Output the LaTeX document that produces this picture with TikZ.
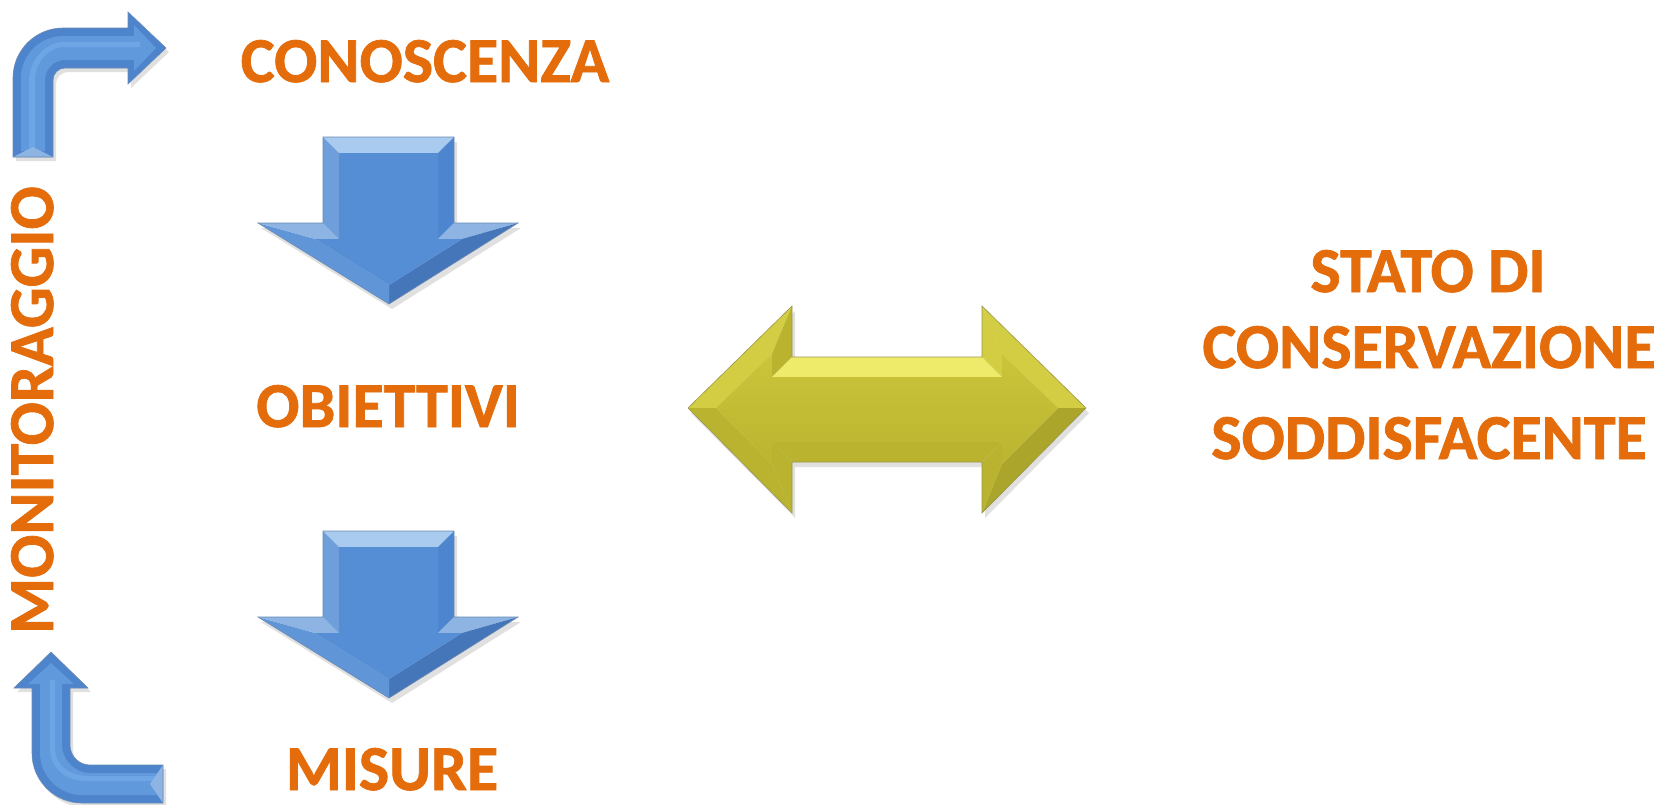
\documentclass[tikz,border=0pt]{standalone}
\usepackage{fontspec}
\setmainfont{Carlito}[BoldFeatures={FakeBold=1.2}]
\definecolor{orng}{HTML}{E46C0A}
\definecolor{bmain}{HTML}{558ED5}
\definecolor{blight}{HTML}{8DB4E2}
\definecolor{bpale}{HTML}{A9CBF0}
\definecolor{bdark}{HTML}{4676BA}
\definecolor{bmid}{HTML}{4D86CE}
\definecolor{bedge}{HTML}{6A8AB5}
\definecolor{bout}{HTML}{4E84CB}
\definecolor{bin}{HTML}{6199DD}
\definecolor{bhi}{HTML}{78AEEA}
\definecolor{ymain}{HTML}{C4BE32}
\definecolor{ylight}{HTML}{EEEA6A}
\definecolor{ypale}{HTML}{D3CD44}
\definecolor{ydark}{HTML}{ABA52C}
\definecolor{ymid}{HTML}{B9B330}
\definecolor{yedge}{HTML}{9A9648}
\tikzset{
  lbl/.style={text=orng, font=\bfseries\fontsize{64}{70}\selectfont, inner sep=0pt, anchor=base},
  shad/.style={fill=black, opacity=0.12},
  downarr/.pic={
    \begin{scope}[shift={(3,5)}]
      \fill[shad] (323,137) -- (454,137) -- (454,223) -- (518,223) -- (389,304) -- (258,223) -- (323,223) -- cycle;
    \end{scope}
    \fill[bpale] (323,137) -- (454,137) -- (438,153) -- (339,153) -- cycle;
    \fill[bmid] (454,137) -- (454,223) -- (438,239) -- (438,153) -- cycle;
    \fill[blight] (454,223) -- (518,223) -- (462,239) -- (438,239) -- cycle;
    \fill[bdark] (518,223) -- (389,304) -- (389,285) -- (462,239) -- cycle;
    \fill[bmain!80!blight] (389,304) -- (258,223) -- (315,239) -- (389,285) -- cycle;
    \fill[blight] (258,223) -- (323,223) -- (339,239) -- (315,239) -- cycle;
    \fill[bmain!55!blight] (323,223) -- (323,137) -- (339,153) -- (339,239) -- cycle;
    \fill[bmain] (339,153) -- (438,153) -- (438,239) -- (462,239) -- (389,285) -- (315,239) -- (339,239) -- cycle;
    \draw[bedge, line width=0.6pt, line join=miter] (323,137) -- (454,137) -- (454,223) -- (518,223) -- (389,304) -- (258,223) -- (323,223) -- cycle;
  }
}
\begin{document}
\begin{tikzpicture}[x=1pt, y=-1pt]
\useasboundingbox (0,0) rectangle (1659,804);
\fill[white] (0,0) rectangle (1659,804);

% top bent arrow
\begin{scope}[shift={(3,4)}]
\fill[shad] (13,157) -- (13,78) .. controls (13,50.4) and (35.4,28) .. (63,28) -- (128,28) -- (128,12) -- (166,48) -- (128,84) -- (128,68) -- (65,68) .. controls (58.4,68) and (53,73.4) .. (53,80) -- (53,157) -- cycle;
\end{scope}
\fill[bout] (13,157) -- (13,78) .. controls (13,50.4) and (35.4,28) .. (63,28) -- (128,28) -- (128,12) -- (166,48) -- (128,84) -- (128,68) -- (65,68) .. controls (58.4,68) and (53,73.4) .. (53,80) -- (53,157) -- cycle;
\fill[bin] (21,151) -- (21,78) .. controls (21,55) and (40,36) .. (63,36) -- (134,36) -- (134,25) -- (156,48) -- (134,71) -- (134,60) -- (65,60) .. controls (54,60) and (45,69) .. (45,80) -- (45,151) -- cycle;
\fill[bhi, opacity=0.6] (29,151) -- (29,80) .. controls (29,62) and (45,42) .. (63,42) -- (140,42) -- (140,47) -- (65,47) .. controls (49,47) and (35,62) .. (35,80) -- (35,151) -- cycle;
\fill[blight] (13,157) -- (53,157) -- (33,147) -- cycle;
\draw[bedge, line width=0.6pt] (13,157) -- (13,78) .. controls (13,50.4) and (35.4,28) .. (63,28) -- (128,28) -- (128,12) -- (166,48) -- (128,84) -- (128,68) -- (65,68) .. controls (58.4,68) and (53,73.4) .. (53,80) -- (53,157) -- cycle;

% bottom bent arrow
\begin{scope}[shift={(3,4)}]
\fill[shad] (51,652) -- (88,688) -- (70,688) -- (70,745) .. controls (70,756) and (79,765) .. (90,765) -- (163,765) -- (163,803) -- (82,803) .. controls (54.4,803) and (32,780.6) .. (32,753) -- (32,688) -- (14,688) -- cycle;
\end{scope}
\fill[bout] (51,652) -- (88,688) -- (70,688) -- (70,745) .. controls (70,756) and (79,765) .. (90,765) -- (163,765) -- (163,803) -- (82,803) .. controls (54.4,803) and (32,780.6) .. (32,753) -- (32,688) -- (14,688) -- cycle;
\fill[bin] (51,663) -- (74,684) -- (62,684) -- (62,745) .. controls (62,760) and (75,773) .. (90,773) -- (157,773) -- (157,795) -- (82,795) .. controls (59,795) and (40,776) .. (40,753) -- (40,684) -- (28,684) -- cycle;
\fill[bhi, opacity=0.6] (55,680) -- (55,748) .. controls (55,766) and (70,776) .. (90,776) -- (157,776) -- (157,781) -- (88,781) .. controls (65,781) and (50,768) .. (50,748) -- (50,680) -- cycle;
\fill[blight] (163,765) -- (163,803) -- (150,784) -- cycle;
\draw[bedge, line width=0.6pt] (51,652) -- (88,688) -- (70,688) -- (70,745) .. controls (70,756) and (79,765) .. (90,765) -- (163,765) -- (163,803) -- (82,803) .. controls (54.4,803) and (32,780.6) .. (32,753) -- (32,688) -- (14,688) -- cycle;

% down arrows
\pic at (0,0) {downarr};
\pic at (0,394) {downarr};

% double arrow
\begin{scope}[shift={(3,5)}]
\fill[shad] (688,408) -- (792,306) -- (792,357) -- (982,357) -- (982,306) -- (1086,408) -- (982,513) -- (982,462) -- (792,462) -- (792,513) -- cycle;
\end{scope}
\fill[ypale] (688,408) -- (792,306) -- (772,354) -- (716,408) -- cycle;
\fill[ymid] (792,306) -- (792,357) -- (772,377) -- (772,354) -- cycle;
\fill[ylight] (792,357) -- (982,357) -- (1002,377) -- (772,377) -- cycle;
\fill[ypale] (982,357) -- (982,306) -- (1002,354) -- (1002,377) -- cycle;
\fill[ypale] (982,306) -- (1086,408) -- (1058,408) -- (1002,354) -- cycle;
\fill[ydark] (1086,408) -- (982,513) -- (1002,464) -- (1058,408) -- cycle;
\fill[ymid] (982,513) -- (982,462) -- (1002,442) -- (1002,464) -- cycle;
\fill[ymid] (982,462) -- (792,462) -- (772,442) -- (1002,442) -- cycle;
\fill[ymid] (792,462) -- (792,513) -- (772,464) -- (772,442) -- cycle;
\fill[ymid] (792,513) -- (688,408) -- (716,408) -- (772,464) -- cycle;
\shade[top color=ymain!85!ylight, bottom color=ymain!95!black] (716,408) -- (772,354) -- (772,377) -- (1002,377) -- (1002,354) -- (1058,408) -- (1002,464) -- (1002,442) -- (772,442) -- (772,464) -- cycle;
\draw[yedge, line width=0.6pt, line join=miter] (688,408) -- (792,306) -- (792,357) -- (982,357) -- (982,306) -- (1086,408) -- (982,513) -- (982,462) -- (792,462) -- (792,513) -- cycle;

% labels
\node[lbl] (kn) at (425,82) {CONOSCENZA};
\node[lbl] (ob) at (388,427) {OBIETTIVI};
\node[lbl] (mi) at (392,790) {MISURE};
\node[lbl] (st) at (1428,292) {STATO DI};
\node[lbl] (cs) at (1429,368) {CONSERVAZIONE};
\node[lbl] (so) at (1429,459) {SODDISFACENTE};
\node[lbl, rotate=90] (mo) at (53,410) {MONITORAGGIO};
\end{tikzpicture}
\end{document}
